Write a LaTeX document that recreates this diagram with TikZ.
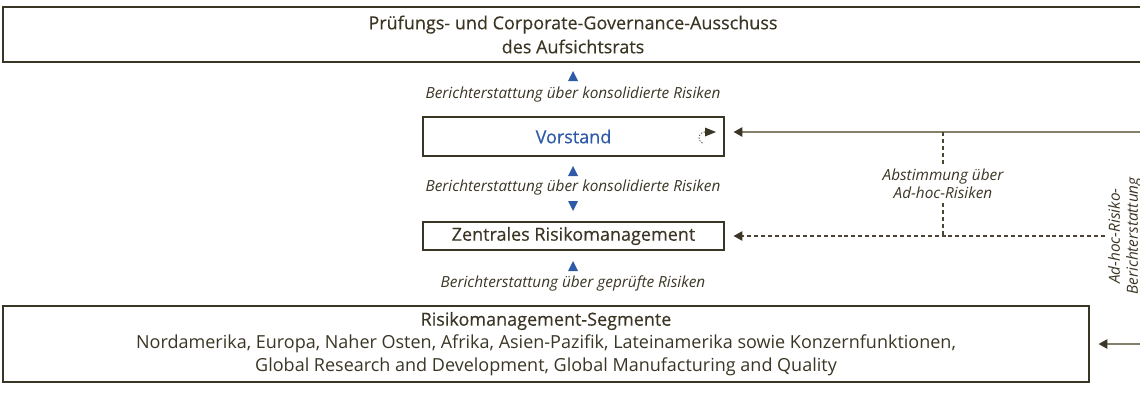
\documentclass[tikz,border=0pt]{standalone}
\usepackage{fontspec}
\setmainfont{Open Sans}
\newfontfamily\medfont{Open Sans}[FakeBold=0.35]
\usetikzlibrary{arrows.meta}
\definecolor{ink}{HTML}{3B3524}
\definecolor{frame}{HTML}{3A3626}
\definecolor{rulec}{HTML}{858069}
\definecolor{dashc}{HTML}{4A4534}
\definecolor{blu}{HTML}{2E5AA8}
\begin{document}
\begin{tikzpicture}[x=0.75pt,y=-0.75pt,
  box/.style={draw=frame, line width=0.9pt, inner sep=0pt, text=ink, align=center, font=\fontsize{13.5}{18}\medfont},
  captxt/.style={font=\fontsize{11.5}{13.5}\selectfont\itshape, text=ink, inner sep=0pt, align=center},
  solidarrow/.style={draw=rulec, line width=0.9pt, -{Triangle[length=6.5pt,width=7pt,fill=frame,color=frame]}},
  dasharrow/.style={draw=dashc, line width=0.8pt, dash pattern=on 3pt off 2.2pt, -{Triangle[length=6.5pt,width=7pt,fill=frame,color=frame]}},
  dashline/.style={draw=dashc, line width=0.8pt, dash pattern=on 3pt off 2.2pt},
  blutri/.style={fill=blu}
]
\useasboundingbox (0,0) rectangle (1140,394);
\clip (0,0) rectangle (1140,394);

% boxes
\node[box, minimum width=855pt, minimum height=41.25pt] (top) at (573,34.5)
  {Prüfungs- und Corporate-Governance-Ausschuss\\des Aufsichtsrats};
\node[box, minimum width=225.75pt, minimum height=29.25pt, text=blu] (vorstand) at (573.5,136.5) {Vorstand};
\node[box, minimum width=225.75pt, minimum height=21pt] (zrm) at (573.5,236) {Zentrales Risikomanagement};
\node[box, minimum width=814.5pt, minimum height=57pt, font=\fontsize{13.5}{17.25}\selectfont] (seg) at (546,344)
  {{\medfont Risikomanagement-Segmente}\\Nordamerika, Europa, Naher Osten, Afrika, Asien-Pazifik, Lateinamerika sowie Konzernfunktionen,\\Global Research and Development, Global Manufacturing and Quality};

% captions
\node[captxt] (c1) at (573,95) {Berichterstattung über konsolidierte Risiken};
\node[captxt] (c2) at (573,188) {Berichterstattung über konsolidierte Risiken};
\node[captxt] (c3) at (573,283) {Berichterstattung über geprüfte Risiken};
\node[captxt] (c4) at (943,184) {Abstimmung über\\Ad-hoc-Risiken};
\node[captxt, rotate=90] (c5) at (1125,236) {Ad-hoc-Risiko-\\Berichterstattung};

% blue triangles
\fill[blutri] (568,81) -- (578,81) -- (573,71) -- cycle;
\fill[blutri] (568,176) -- (578,176) -- (573,166) -- cycle;
\fill[blutri] (568,201) -- (578,201) -- (573,211) -- cycle;
\fill[blutri] (568,271) -- (578,271) -- (573,261) -- cycle;

% coordinates
\coordinate (rtop) at (1152,132);
\coordinate (rbot) at (1152,344);
\coordinate (dstart) at (1105,236);
\coordinate (vt) at (943,132);
\coordinate (vb) at (943,236);

% connectors
\draw[solidarrow] (rtop) -- ([xshift=6.75pt]vorstand.east |- rtop);
\draw[draw=rulec, line width=0.9pt] (rtop) -- (rbot);
\draw[solidarrow] (rbot) -- ([xshift=6.75pt]seg.east |- rbot);
\draw[dasharrow] (dstart) -- ([xshift=6.75pt]zrm.east);
\draw[dashline] (vt) -- ([yshift=3pt]c4.north);
\draw[dashline] ([yshift=-3pt]c4.south) -- (vb);

% small loop symbol in Vorstand box
\draw[dashc, line width=0.6pt, dash pattern=on 1pt off 1.2pt] (705,132) arc (270:100:6);
\fill[frame] (705,127.5) -- (716,132) -- (705,136.5) -- cycle;
\end{tikzpicture}
\end{document}
